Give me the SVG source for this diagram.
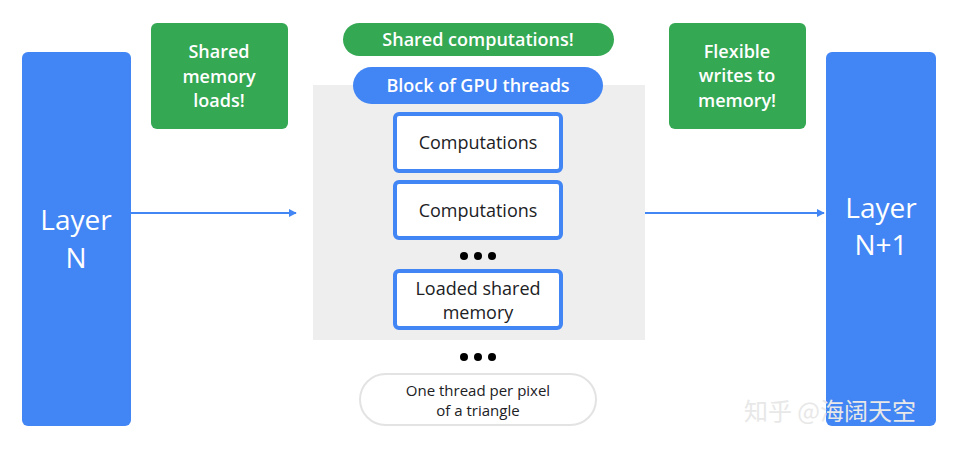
<svg xmlns="http://www.w3.org/2000/svg" width="960" height="450" viewBox="0 0 960 450">
<defs>
<style>
text{font-family:"Open Sans","Liberation Sans",sans-serif;text-anchor:middle}
.layer{fill:#4285f4}
.lt{fill:#fff;font-size:28px}
.green{fill:#34a853}
.gt{fill:#fff;font-size:18px;font-weight:600}
.comp{fill:#fff;stroke:#4285f4;stroke-width:4}
.ct{fill:#202124;font-size:18px}
.conn{stroke:#4285f4;stroke-width:2;fill:none}
</style>
<marker id="ah" viewBox="0 0 10 10" refX="9" refY="5" markerWidth="8" markerHeight="8" markerUnits="userSpaceOnUse" orient="auto"><path d="M0,0L10,5L0,10z" fill="#4285f4"/></marker>
</defs>
<rect width="960" height="450" fill="#fff"/>
<g id="layerN"><rect class="layer" x="22" y="52" width="109" height="374" rx="6"/><text class="lt" x="76" y="230">Layer</text><text class="lt" x="76" y="268">N</text></g>
<g id="layerN1"><rect class="layer" x="826" y="52" width="110" height="374" rx="6"/><text class="lt" x="881" y="218">Layer</text><text class="lt" x="881" y="255">N+1</text></g>
<g id="sharedLoads"><rect class="green" x="151" y="23" width="137" height="106" rx="6"/><text class="gt" x="219" y="58">Shared</text><text class="gt" x="219" y="83">memory</text><text class="gt" x="219" y="107">loads!</text></g>
<g id="flexWrites"><rect class="green" x="669" y="23" width="137" height="106" rx="6"/><text class="gt" x="737" y="58">Flexible</text><text class="gt" x="737" y="82">writes to</text><text class="gt" x="737" y="107">memory!</text></g>
<g id="block"><rect x="313" y="85" width="332" height="255" fill="#eeeeee"/></g>
<g id="sharedComp"><rect class="green" x="343" y="23" width="271" height="33" rx="16.5"/><text class="gt" x="478" y="46">Shared computations!</text></g>
<g id="blockLabel"><rect x="353" y="67" width="250" height="37" rx="18.5" fill="#4285f4"/><text class="gt" x="478" y="92">Block of GPU threads</text></g>
<g id="comp1"><rect class="comp" x="395" y="114" width="166" height="57" rx="4"/><text class="ct" x="478" y="149">Computations</text></g>
<g id="comp2"><rect class="comp" x="395" y="182" width="166" height="56" rx="4"/><text class="ct" x="478" y="217">Computations</text></g>
<g id="dots1"><circle cx="464" cy="256" r="4"/><circle cx="478" cy="256" r="4"/><circle cx="492" cy="256" r="4"/></g>
<g id="loaded"><rect class="comp" x="395" y="271" width="166" height="57" rx="4"/><text class="ct" x="478" y="295">Loaded shared</text><text class="ct" x="478" y="319">memory</text></g>
<g id="dots2"><circle cx="464" cy="357" r="4"/><circle cx="478" cy="357" r="4"/><circle cx="492" cy="357" r="4"/></g>
<g id="thread"><rect x="360" y="374" width="236" height="51" rx="25.5" fill="#fff" stroke="#e3e3e3" stroke-width="2"/><text x="478" y="396" font-size="15" fill="#202124">One thread per pixel</text><text x="478" y="416" font-size="15" fill="#202124">of a triangle</text></g>
<g id="connectors"><line class="conn" x1="131" y1="213" x2="296" y2="213" marker-end="url(#ah)"/><line class="conn" x1="645" y1="213" x2="824" y2="213" marker-end="url(#ah)"/></g>
<text x="830" y="420" font-size="24" fill="#e8e8e8" style="font-family:'Noto Sans CJK SC',sans-serif">知乎 @海阔天空</text>
</svg>
